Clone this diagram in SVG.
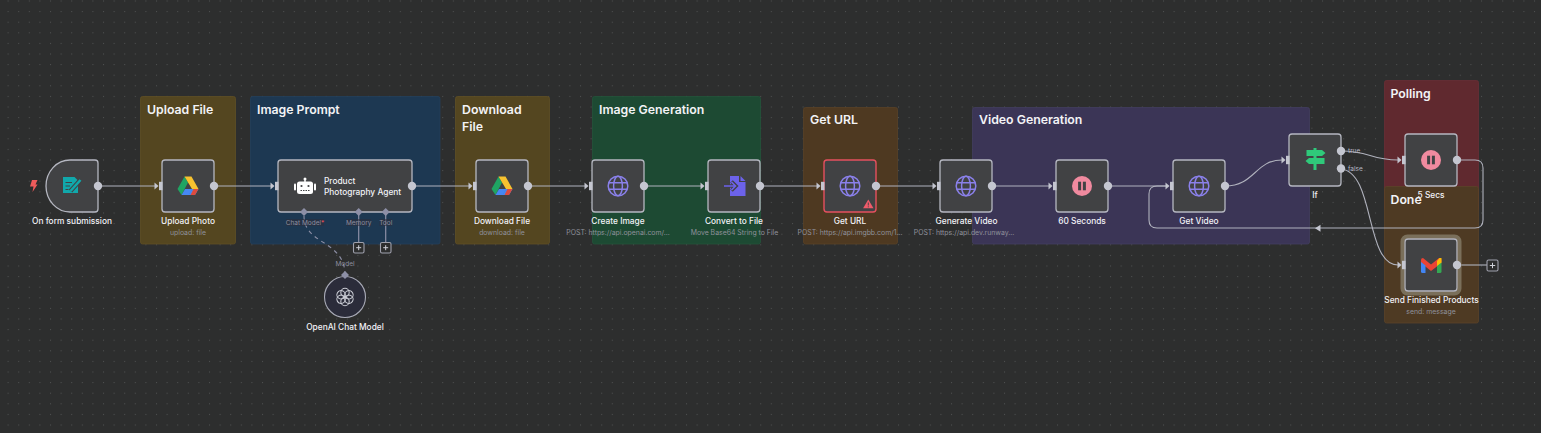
<svg xmlns="http://www.w3.org/2000/svg" width="1541" height="433" viewBox="0 0 1541 433">
<style>
text{font-family:Inter,"Liberation Sans",sans-serif}
.st{font-size:12.3px;font-weight:600;fill:#f3f3f6}
.nl{font-size:8.35px;font-weight:500;fill:#f2f2f7;text-anchor:middle}
.sub{font-size:6.9px;fill:#8f919b;text-anchor:middle}
.hl{font-size:6.5px;fill:#8d8fa0;text-anchor:middle}
.tl{font-size:6.5px;fill:#b8bac6}
.nb{fill:#414244;stroke:#b5b7c1;stroke-width:1.3}
.c{fill:none;stroke:#b0b2bd;stroke-width:1.1}
.port{fill:#c4c6d0}
.dia{fill:#8d8fa6}
.plus{fill:#2d2e2e;stroke:#9fa1ad;stroke-width:1.1}
.pm{stroke:#d0d2da;stroke-width:1;fill:none}
.ic{fill:none;stroke:#8a80ea;stroke-width:1.5}
.lb{fill:#2d2e3a;opacity:.55}
</style>
<defs>
<pattern id="grid" width="10.6" height="10.6" patternUnits="userSpaceOnUse" x="7.6" y="0.5"><rect width="1" height="1" fill="#505252"/></pattern>
<g id="inp"><path d="M-7.500-3.500L-3.500 0L-7.500 3.500Z" fill="#c4c6d0"/><rect x="-3" y="-4.200" width="3.500" height="8.400" fill="#c4c6d0"/></g>
<g id="gd"><path d="M-3.500-9.500L0-3.500L-6.500 9L-10.500 3Z" fill="#1fa463"/><path d="M-3.500-9.500H3.500L10.500 3H4Z" fill="#f7c22f"/><path d="M-6.500 9L-3 3H4.500L1 9Z" fill="#4688f4"/><path d="M4 3H10.500L7 9H0.500Z" fill="#4688f4"/><path d="M5.500 3H10.500L7 9H2.500Z" fill="#dd4b3e"/></g>
<g id="globe" class="ic"><circle r="9.800"/><ellipse rx="4.400" ry="9.800"/><path d="M-9.300-3.300H9.300M-9.300 3.300H9.300"/></g>
<g id="pause"><circle r="10" fill="#f08a9f"/><rect x="-3.900" y="-4.300" width="3" height="8.600" fill="#414244"/><rect x="0.900" y="-4.300" width="3" height="8.600" fill="#414244"/></g>
</defs>
<rect width="1541" height="433" fill="#2d2e2e"/>
<rect width="1541" height="433" fill="url(#grid)"/>
<g id="stickies">
<g id="sticky-upload"><rect x="140.500" y="96.500" width="95" height="147.500" rx="2" fill="#544620" stroke="#5f4f25" stroke-width="0.800"/><text class="st" x="147" y="114.300">Upload File</text></g>
<g id="sticky-prompt"><rect x="250.500" y="96.500" width="189.500" height="147.500" rx="2" fill="#1d3852" stroke="#23405c" stroke-width="0.800"/><text class="st" x="257" y="114.300">Image Prompt</text></g>
<g id="sticky-download"><rect x="455.500" y="96.500" width="94" height="147.500" rx="2" fill="#544620" stroke="#5f4f25" stroke-width="0.800"/><text class="st" x="462" y="114.300">Download</text><text class="st" x="462" y="131">File</text></g>
<g id="sticky-generation"><rect x="592.500" y="96.500" width="168" height="147.500" rx="2" fill="#1d4a33" stroke="#23543b" stroke-width="0.800"/><text class="st" x="599" y="114.300">Image Generation</text></g>
<g id="sticky-geturl"><rect x="803.500" y="107.500" width="94" height="136.500" rx="2" fill="#4e3921" stroke="#594126" stroke-width="0.800"/><text class="st" x="810" y="124">Get URL</text></g>
<g id="sticky-video"><rect x="972.500" y="107.500" width="337" height="136.500" rx="2" fill="#3b3556" stroke="#433d60" stroke-width="0.800"/><text class="st" x="979" y="124">Video Generation</text></g>
<g id="sticky-polling"><rect x="1384.500" y="80.500" width="94" height="130" rx="2" fill="#60292f" stroke="#6a2f36" stroke-width="0.800"/><text class="st" x="1390.500" y="98">Polling</text></g>
<g id="sticky-done"><rect x="1384.500" y="186.500" width="94" height="136.500" rx="2" fill="#4e3a23" stroke="#5a4328" stroke-width="0.800"/><text class="st" x="1390.500" y="204">Done</text></g>
</g>
<g id="connectors">
<path class="c" d="M98 186H155"/>
<path class="c" d="M214 186H271"/>
<path class="c" d="M412 186H469"/>
<path class="c" d="M528 186H585"/>
<path class="c" d="M644 186H701"/>
<path class="c" d="M760 186H817"/>
<path class="c" d="M876 186H933"/>
<path class="c" d="M992 186H1049"/>
<path class="c" d="M1108 186H1166"/>
<path class="c" d="M1225 186C1255 186 1255 160 1282 160"/>
<path class="c" d="M1341 151C1370 151 1370 160 1398 160"/>
<path class="c" d="M1341 169C1375 172 1365 265 1398 265"/>
<path class="c" d="M1457 160H1475Q1483 160 1483 168V220Q1483 228 1475 228H1157Q1149 228 1149 220V194Q1149 186 1157 186H1166"/>
<path d="M1315 228.300L1320.500 224.800V231.800Z" fill="#c4c6d0"/>
<path class="c" d="M1457 265H1487"/>
<path d="M358.700 212V243M385.700 212V243" fill="none" stroke="#8d8fa6" stroke-width="1.200"/>
<path d="M304 216C304 245 345 240 345 275" fill="none" stroke="#8d8fa6" stroke-width="1.100" stroke-dasharray="4 4"/>
</g>
<g id="node-trigger">
<path class="nb" d="M70 160H95Q98 160 98 163V209Q98 212 95 212H70A24 26 0 0 1 46 186A24 26 0 0 1 70 160Z"/>
<path d="M63 177H74.500L78 180.500V193H63Z" fill="#11a8ab"/><path d="M65.500 182.500H72M65.500 186H70M65.500 189.500H68.500" stroke="#414244" fill="none"/><path d="M70.500 191L80 180.500" stroke="#414244" stroke-width="4.500"/><path d="M70.500 191L80.500 180" stroke="#11a8ab" stroke-width="2.600"/>
<path d="M32 180H37.500L35.500 184.500H37.500L32.500 192L33.500 186.500H30Z" fill="#ef5b5b"/>
<circle class="port" cx="98" cy="186" r="4.200"/>
<text class="nl" x="72" y="224">On form submission</text>
</g>
<g id="node-upload">
<rect class="nb" x="162" y="160" width="52" height="52" rx="3"/><use href="#gd" x="188" y="186"/><use href="#inp" x="162" y="186"/><circle class="port" cx="214" cy="186" r="4.200"/>
<text class="nl" x="188" y="224">Upload Photo</text><text class="sub" x="188" y="235">upload: file</text>
</g>
<g id="node-agent">
<rect class="nb" x="278" y="160" width="134" height="52" rx="3"/><use href="#inp" x="278" y="186"/><circle class="port" cx="412" cy="186" r="4.200"/>
<rect x="297" y="181.500" width="16" height="12.500" rx="2.500" fill="#fff"/><rect x="294" y="183.500" width="2" height="7" rx="1" fill="#fff"/><rect x="314" y="183.500" width="2" height="7" rx="1" fill="#fff"/><circle cx="305" cy="179" r="1.500" fill="#fff"/><rect x="304.300" y="179" width="1.400" height="3" fill="#fff"/><circle cx="301.500" cy="186" r="1.100" fill="#414244"/><circle cx="308.500" cy="186" r="1.100" fill="#414244"/><path d="M300.500 190.500H309.500" stroke="#414244" stroke-dasharray="1.500 1"/>
<text x="324" y="184" font-size="8.350" font-weight="500" fill="#f2f2f7">Product</text><text x="324" y="195" font-size="8.350" font-weight="500" fill="#f2f2f7">Photography Agent</text>
<path class="dia" d="M304 208L308 212L304 216L300 212Z"/><path class="dia" d="M358.700 208L362.700 212L358.700 216L354.700 212Z"/><path class="dia" d="M385.700 208L389.700 212L385.700 216L381.700 212Z"/>
<rect class="lb" x="286" y="219" width="38" height="7"/><rect class="lb" x="346.500" y="219" width="24.500" height="7"/><rect class="lb" x="379.500" y="219" width="12.500" height="7"/>
<text class="hl" x="305" y="224.500">Chat Model<tspan fill="#e8505b">*</tspan></text><text class="hl" x="358.700" y="224.500">Memory</text><text class="hl" x="385.700" y="224.500">Tool</text>
<rect class="plus" x="353.500" y="242.500" width="10.500" height="10.500" rx="1.500"/><path class="pm" d="M356.200 247.700H361.200M358.700 245.200V250.200"/>
<rect class="plus" x="380.500" y="242.500" width="10.500" height="10.500" rx="1.500"/><path class="pm" d="M383.200 247.700H388.200M385.700 245.200V250.200"/>
</g>
<g id="node-openai">
<circle cx="345" cy="297" r="20.500" fill="#2b2c3a" stroke="#a8aab6" stroke-width="1.100"/>
<g fill="none" stroke="#c9cbd3" stroke-width="1.100"><circle cx="345" cy="292.500" r="4.200"/><circle cx="345" cy="292.500" r="4.200" transform="rotate(60 345 297)"/><circle cx="345" cy="292.500" r="4.200" transform="rotate(120 345 297)"/><circle cx="345" cy="292.500" r="4.200" transform="rotate(180 345 297)"/><circle cx="345" cy="292.500" r="4.200" transform="rotate(240 345 297)"/><circle cx="345" cy="292.500" r="4.200" transform="rotate(300 345 297)"/></g>
<path class="dia" d="M345 271L349 275L345 279L341 275Z"/>
<text class="hl" x="345" y="266">Model</text>
<text class="nl" x="345" y="330">OpenAI Chat Model</text>
</g>
<g id="node-download">
<rect class="nb" x="476" y="160" width="52" height="52" rx="3"/><use href="#gd" x="502" y="186"/><use href="#inp" x="476" y="186"/><circle class="port" cx="528" cy="186" r="4.200"/>
<text class="nl" x="502" y="224">Download File</text><text class="sub" x="502" y="235">download: file</text>
</g>
<g id="node-create">
<rect class="nb" x="592" y="160" width="52" height="52" rx="3"/><use href="#globe" x="618" y="186"/><use href="#inp" x="592" y="186"/><circle class="port" cx="644" cy="186" r="4.200"/>
<text class="nl" x="618" y="224">Create Image</text><text class="sub" x="618" y="235">POST: https://api.openai.com/...</text>
</g>
<g id="node-convert">
<rect class="nb" x="708" y="160" width="52" height="52" rx="3"/><path d="M730 176H739V182H745.500V196H730Z" fill="#6c62ea"/><path d="M740.500 176L745.500 181H740.500Z" fill="#6c62ea"/><path d="M723 186H735M731.500 181.500L736 186L731.500 190.500" fill="none" stroke="#414244" stroke-width="3.600"/><path d="M724 186H735.500M731.500 182L735.500 186L731.500 190" fill="none" stroke="#6c62ea" stroke-width="1.600"/><use href="#inp" x="708" y="186"/><circle class="port" cx="760" cy="186" r="4.200"/>
<text class="nl" x="734" y="224">Convert to File</text><text class="sub" x="734.500" y="235">Move Base64 String to File</text>
</g>
<g id="node-geturl">
<rect x="824" y="160" width="52" height="52" rx="3" fill="#414244" stroke="#e5505f" stroke-width="1.400"/><use href="#globe" x="850" y="186"/><use href="#inp" x="824" y="186"/><circle class="port" cx="876" cy="186" r="4.200"/>
<path d="M868.300 199.500L873.500 208.300H863.100Z" fill="#ef5b6a"/><path d="M868.300 202.500V205.500M868.300 206.300V207.300" stroke="#414244" stroke-width="0.900"/>
<text class="nl" x="850" y="224">Get URL</text><text class="sub" x="850" y="235">POST: https://api.imgbb.com/1...</text>
</g>
<g id="node-generate">
<rect class="nb" x="940" y="160" width="52" height="52" rx="3"/><use href="#globe" x="966" y="186"/><use href="#inp" x="940" y="186"/><circle class="port" cx="992" cy="186" r="4.200"/>
<text class="nl" x="966.500" y="224">Generate Video</text><text class="sub" x="964" y="235">POST: https://api.dev.runway...</text>
</g>
<g id="node-wait60">
<rect class="nb" x="1056" y="160" width="52" height="52" rx="3"/><use href="#pause" x="1082" y="186"/><use href="#inp" x="1056" y="186"/><circle class="port" cx="1108" cy="186" r="4.200"/>
<text class="nl" x="1082" y="224">60 Seconds</text>
</g>
<g id="node-getvideo">
<rect class="nb" x="1173" y="160" width="52" height="52" rx="3"/><use href="#globe" x="1199" y="186"/><use href="#inp" x="1173" y="186"/><circle class="port" cx="1225" cy="186" r="4.200"/>
<text class="nl" x="1199" y="224">Get Video</text>
</g>
<g id="node-if">
<rect class="nb" x="1289" y="134" width="52" height="52" rx="3"/><use href="#inp" x="1289" y="160"/>
<rect x="1313.500" y="148" width="3" height="22" fill="#2fc97a"/><path d="M1306.500 150H1322L1325.500 153L1322 156H1306.500ZM1324.500 158H1309L1305.500 161L1309 164H1324.500Z" fill="#2fc97a"/>
<circle class="port" cx="1341" cy="151" r="4.200"/><circle class="port" cx="1341" cy="168.500" r="4.200"/>
<text class="tl" x="1348" y="152.500">true</text><text class="tl" x="1348" y="170.700">false</text>
<text class="nl" x="1315" y="198">If</text>
</g>
<g id="node-wait5">
<rect class="nb" x="1405" y="134" width="52" height="52" rx="3"/><use href="#pause" x="1431" y="160"/><use href="#inp" x="1405" y="160"/><circle class="port" cx="1457" cy="160" r="4.200"/>
<text class="nl" x="1431" y="198">5 Secs</text>
</g>
<g id="node-send">
<rect x="1402.500" y="236.500" width="57" height="57" rx="5" fill="none" stroke="#7a6f5a" stroke-width="4"/>
<rect class="nb" x="1405" y="239" width="52" height="52" rx="3"/>
<path d="M1421 260Q1421 258 1423 258L1431 264.500L1439 258Q1441.500 258 1441.500 260V263L1431 271L1421 263Z" fill="#ea4335"/><path d="M1421 262L1425.500 265.500V273H1422.500Q1421 273 1421 271.500Z" fill="#4285f4"/><path d="M1441.500 262L1437 265.500V273H1440Q1441.500 273 1441.500 271.500Z" fill="#34a853"/><path d="M1437 261L1439.500 258H1441.500V262.500L1437 266Z" fill="#fbbc04"/>
<use href="#inp" x="1405" y="265"/><circle class="port" cx="1457" cy="265" r="4.200"/>
<rect class="plus" x="1487" y="260" width="11" height="11" rx="1.500" stroke="#c4c6d0"/><path class="pm" d="M1489.800 265.500H1495.200M1492.500 262.800V268.200"/>
<text class="nl" x="1431.500" y="303">Send Finished Products</text><text class="sub" x="1431" y="314">send: message</text>
</g>
</svg>
